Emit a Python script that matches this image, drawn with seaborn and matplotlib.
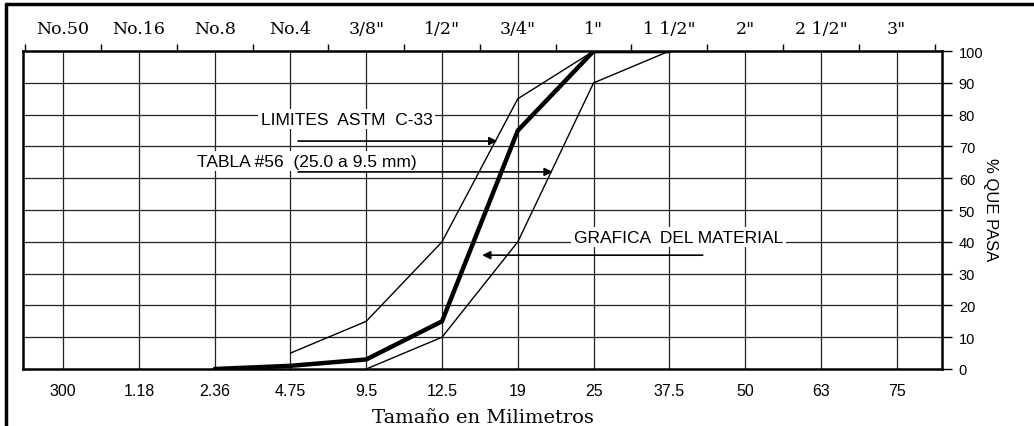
import numpy as np
import pandas as pd
import seaborn as sns
import matplotlib.pyplot as plt
from matplotlib.lines import Line2D

# tamaños de tamiz (mm) y designación
tamanos = ['300', '1.18', '2.36', '4.75', '9.5', '12.5', '19', '25', '37.5', '50', '63', '75']
tamices = ['No.50', 'No.16', 'No.8', 'No.4', '3/8"', '1/2"', '3/4"', '1"', '1 1/2"', '2"', '2 1/2"', '3"']

# curva del material
mat_tam = ['2.36', '4.75', '9.5', '12.5', '19', '25', '37.5']
mat_pasa = [0, 1, 3, 15, 75, 100, 100]

# limites ASTM C-33, tabla #56
sup_tam = ['4.75', '9.5', '12.5', '19', '25', '37.5']
sup_pasa = [5, 15, 40, 85, 100, 100]
inf_tam = ['9.5', '12.5', '19', '25', '37.5']
inf_pasa = [0, 10, 40, 90, 100]

y_ticks = [0, 10, 20, 30, 40, 50, 60, 70, 80, 90, 100]


def to_df(tam, pasa, name):
    return pd.DataFrame({'pos': [tamanos.index(t) for t in tam], 'pasa': pasa, 'serie': name})


df_mat = to_df(mat_tam, mat_pasa, 'material')
df_sup = to_df(sup_tam, sup_pasa, 'superior')
df_inf = to_df(inf_tam, inf_pasa, 'inferior')

sns.set_style('white')
plt.rcParams['font.family'] = ['Liberation Sans', 'DejaVu Sans']
plt.rcParams['text.color'] = 'black'
plt.rcParams['xtick.color'] = 'black'
plt.rcParams['ytick.color'] = 'black'
plt.rcParams['axes.labelcolor'] = 'black'

fig = plt.figure(figsize=(10.34, 4.27), dpi=100)
ax = fig.add_axes([0.0222, 0.1335, 0.889, 0.7445])

sns.lineplot(data=df_sup, x='pos', y='pasa', color='black', lw=1.0, ax=ax)
sns.lineplot(data=df_inf, x='pos', y='pasa', color='black', lw=1.0, ax=ax)
sns.lineplot(data=df_mat, x='pos', y='pasa', color='black', lw=3.2, ax=ax)

ax.set_xlim(-0.53, 11.6)
ax.set_ylim(0, 100)

# rejilla
for k in range(len(tamanos)):
    ax.axvline(k, color='#222222', lw=0.9, zorder=0)
for v in y_ticks[1:-1]:
    ax.axhline(v, color='#222222', lw=0.9, zorder=0)

for s in ax.spines.values():
    s.set_color('black')
    s.set_linewidth(1.8)

# eje inferior
ax.set_xticks(range(len(tamanos)))
ax.set_xticklabels(tamanos, fontsize=11.5)
ax.tick_params(axis='x', length=0, pad=10)
ax.set_xlabel('Tamaño en Milimetros', family='DejaVu Serif', fontsize=14, labelpad=7)

# eje derecho
ax.yaxis.tick_right()
ax.set_yticks(y_ticks)
ax.set_yticklabels([str(v) for v in y_ticks], fontsize=10.5)
ax.tick_params(axis='y', length=7, width=1, pad=5)
ax.set_ylabel('')
fig.text(0.958, 0.51, '% QUE PASA', rotation=270, ha='center', va='center', fontsize=12)

# eje superior con tamices
top = ax.secondary_xaxis('top')
top.set_xticks(np.arange(len(tamanos) + 1) - 0.5)
top.set_xticklabels([''] * (len(tamanos) + 1))
top.set_xticks(range(len(tamanos)), minor=True)
top.set_xticklabels(tamices, minor=True, family='DejaVu Serif', fontsize=12.5)
top.tick_params(axis='x', which='major', length=5, width=1, direction='out')
top.tick_params(axis='x', which='minor', length=0, pad=10)
top.spines['top'].set_visible(False)

# anotaciones
box = dict(facecolor='white', edgecolor='none', pad=2)
ax.text(3.74, 78.6, 'LIMITES  ASTM  C-33', ha='center', va='center', fontsize=12.5, bbox=box)
ax.text(3.22, 65.4, 'TABLA #56  (25.0 a 9.5 mm)', ha='center', va='center', fontsize=12.5, bbox=box)
ax.text(8.12, 41.5, 'GRAFICA  DEL MATERIAL', ha='center', va='center', fontsize=12.5, bbox=box)

arrow = dict(arrowstyle='-|>', color='black', lw=1.2, mutation_scale=12, shrinkA=0, shrinkB=0)
ax.annotate('', xy=(5.73, 71.7), xytext=(3.10, 71.7), arrowprops=arrow)
ax.annotate('', xy=(6.46, 62), xytext=(3.10, 62), arrowprops=arrow)
ax.annotate('', xy=(5.53, 35.8), xytext=(8.44, 35.8), arrowprops=arrow)

# marco exterior
fig.add_artist(Line2D([0.006, 1.0], [0.988, 0.988], color='black', lw=2.5, transform=fig.transFigure))
fig.add_artist(Line2D([0.006, 0.006], [0.0, 0.988], color='black', lw=2.5, transform=fig.transFigure))

fig.savefig('out.png', dpi=100)
